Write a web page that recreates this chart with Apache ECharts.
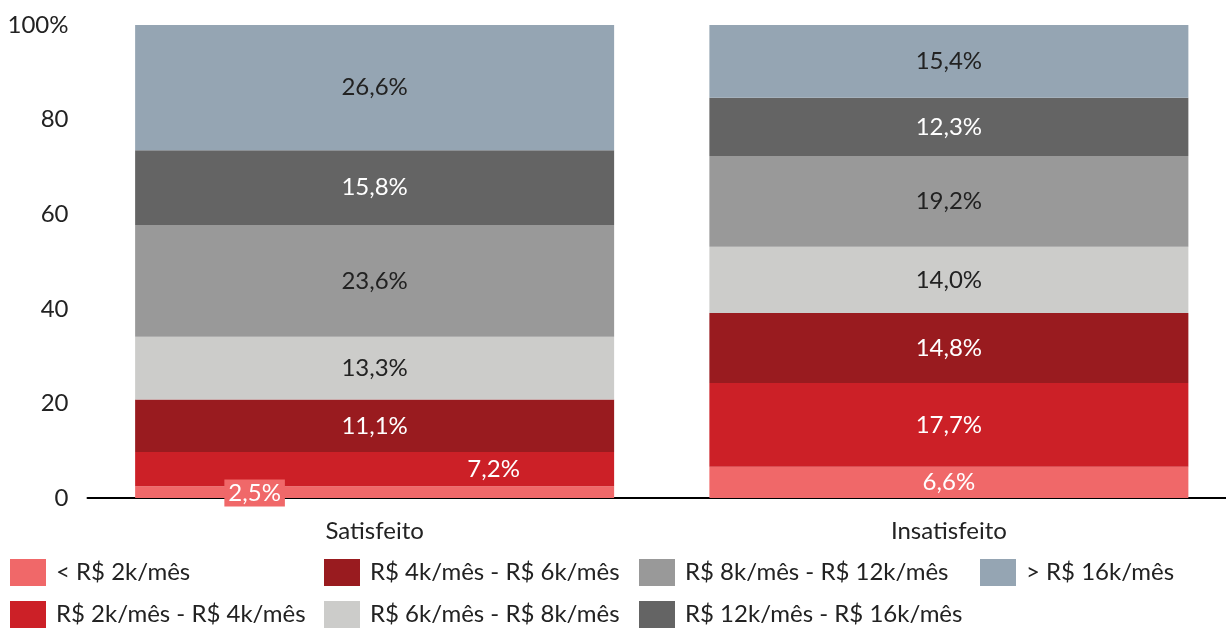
<!DOCTYPE html>
<html>
<head>
<meta charset="utf-8">
<script src="https://cdn.jsdelivr.net/npm/echarts@6/dist/echarts.min.js"></script>
<style>
html,body{margin:0;padding:0;background:#fff;overflow:hidden;}
#chart{width:1236px;height:629px;}
</style>
</head>
<body>
<div id="chart"></div>
<script>
var categories = ['Satisfeito', 'Insatisfeito'];
var seriesNames = ['< R$ 2k/mês', 'R$ 2k/mês - R$ 4k/mês', 'R$ 4k/mês - R$ 6k/mês', 'R$ 6k/mês - R$ 8k/mês', 'R$ 8k/mês - R$ 12k/mês', 'R$ 12k/mês - R$ 16k/mês', '> R$ 16k/mês'];
var lt2k = [2.5, 6.6];
var k2to4 = [7.2, 17.7];
var k4to6 = [11.1, 14.8];
var k6to8 = [13.3, 14.0];
var k8to12 = [23.6, 19.2];
var k12to16 = [15.8, 12.3];
var gt16 = [26.6, 15.4];
var yTicks = [0, 20, 40, 60, 80, 100];

var values = [lt2k, k2to4, k4to6, k6to8, k8to12, k12to16, gt16];
var colors = ['#F06869', '#CC2027', '#991B1F', '#CCCCCA', '#999999', '#646464', '#95A5B3'];
var labelColors = ['#fff', '#fff', '#fff', '#222', '#222', '#fff', '#222'];
var FONT = 'Lato, "Noto Sans", sans-serif';

function fmt(p) { return p.value.toFixed(1).replace('.', ',') + '%'; }

var series = values.map(function (arr, i) {
  return {
    name: seriesNames[i],
    type: 'bar',
    stack: 'total',
    barWidth: 479,
    itemStyle: { color: colors[i] },
    label: {
      show: true,
      position: 'inside',
      formatter: fmt,
      color: labelColors[i],
      fontSize: 24,
      fontFamily: FONT
    },
    data: arr.map(function (v, j) {
      var d = { value: v };
      if (i === 0 && j === 0) {
        d.label = { offset: [-120, 1], backgroundColor: colors[0], padding: [2, 4, 1, 4] };
      }
      if (i === 1 && j === 0) {
        d.label = { offset: [119, 0] };
      }
      return d;
    })
  };
});

function legendCol(left, names) {
  return {
    orient: 'vertical',
    left: left,
    top: 559,
    height: 80,
    padding: 0,
    itemWidth: 36,
    itemHeight: 27,
    itemGap: 15,
    icon: 'rect',
    selectedMode: false,
    textStyle: { fontSize: 24, color: '#222', fontFamily: FONT, padding: [0, 0, 0, 5] },
    data: names
  };
}

var chart = echarts.init(document.getElementById('chart'));
chart.setOption({
  animation: false,
  grid: { left: 87.5, top: 25, right: 0, height: 473 },
  legend: [
    legendCol(10, [seriesNames[0], seriesNames[1]]),
    legendCol(324, [seriesNames[2], seriesNames[3]]),
    legendCol(639, [seriesNames[4], seriesNames[5]]),
    legendCol(980, [seriesNames[6]])
  ],
  xAxis: {
    type: 'category',
    data: categories,
    axisLine: { lineStyle: { color: '#000', width: 2 } },
    axisTick: { show: false },
    axisLabel: { fontSize: 24, color: '#222', fontFamily: FONT, margin: 21 }
  },
  yAxis: {
    type: 'value',
    min: yTicks[0],
    max: yTicks[yTicks.length - 1],
    interval: yTicks[1] - yTicks[0],
    splitLine: { show: false },
    axisLine: { show: false },
    axisTick: { show: false },
    axisLabel: {
      fontSize: 24, color: '#222', fontFamily: FONT, margin: 19,
      formatter: function (v) { return v === 100 ? '100%' : String(v); }
    }
  },
  series: series
});
</script>
</body>
</html>
